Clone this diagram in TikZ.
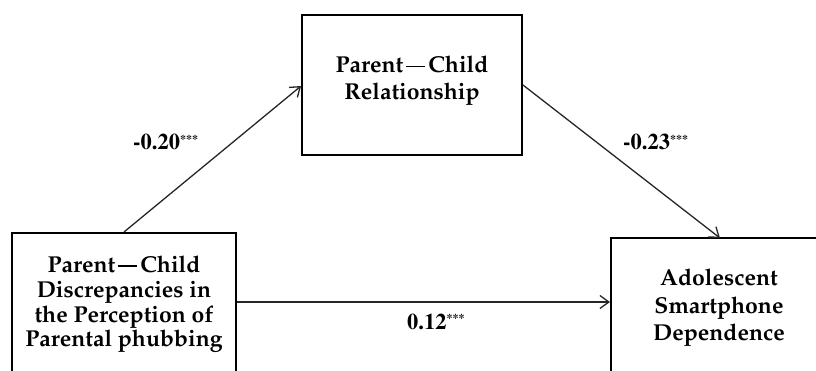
\documentclass[tikz,border=0pt]{standalone}
\usepackage[T1]{fontenc}
\usetikzlibrary{arrows.meta}
\newcommand{\labfont}{\fontfamily{ptm}\fontseries{b}\fontsize{22.5}{24}\selectfont}
\newcommand{\stars}{\raisebox{6.5pt}{\fontsize{12}{12}\selectfont ***}}
\newcommand{\pcdash}{\kern3pt\rule[0.24em]{19pt}{1.7pt}\kern3pt}
\tikzset{
  frame/.style={draw=black, line width=1.9pt, rectangle, inner sep=0pt},
  boxtext/.style={align=center, inner sep=0pt},
  arr/.style={draw=black!85, line width=1.3pt, -{Straight Barb[length=9pt,width=13pt,line width=1.3pt]}},
  lab/.style={inner sep=0pt, anchor=base west, font=\labfont}
}
\begin{document}
\begin{tikzpicture}[x=1pt,y=1pt]
\useasboundingbox (0,0) rectangle (816,370);
\clip (0,0) rectangle (816,370);
% boxes
\node[frame, minimum width=224pt, minimum height=160pt, anchor=north] (L) at (124,138) {};
\node[frame, minimum width=220pt, minimum height=140pt] (T) at (412,285) {};
\node[frame, minimum width=218pt, minimum height=160pt, anchor=north west] (R) at (610,133) {};
% texts
\node[boxtext, font=\fontfamily{ppl}\fontseries{b}\fontsize{23}{24.7}\selectfont] (Lt) at (124,65.6) {Parent\pcdash Child\\Discrepancies in\\the Perception of\\Parental phubbing};
\node[boxtext, font=\fontfamily{ppl}\fontseries{b}\fontsize{23}{26.6}\selectfont] (Tt) at (412,289.3) {Parent\pcdash Child\\Relationship};
\node[boxtext, font=\fontfamily{ppl}\fontseries{b}\fontsize{23}{27.5}\selectfont] (Rt) at (719,62) {Adolescent\\Smartphone\\Dependence};
% connectors
\draw[arr] (L.north) -- ([yshift=-1pt]T.west);
\draw[arr] (T.east) -- ([yshift=-1pt]R.north);
\draw[arr] ([yshift=-70pt]L.north east) -- ([yshift=-65pt]R.north west);
% labels
\node[lab] (a) at (133,220) {-0.20\stars};
\node[lab] (b) at (623,220) {-0.23\stars};
\node[lab] (c) at (407,41) {0.12\stars};
\end{tikzpicture}
\end{document}
